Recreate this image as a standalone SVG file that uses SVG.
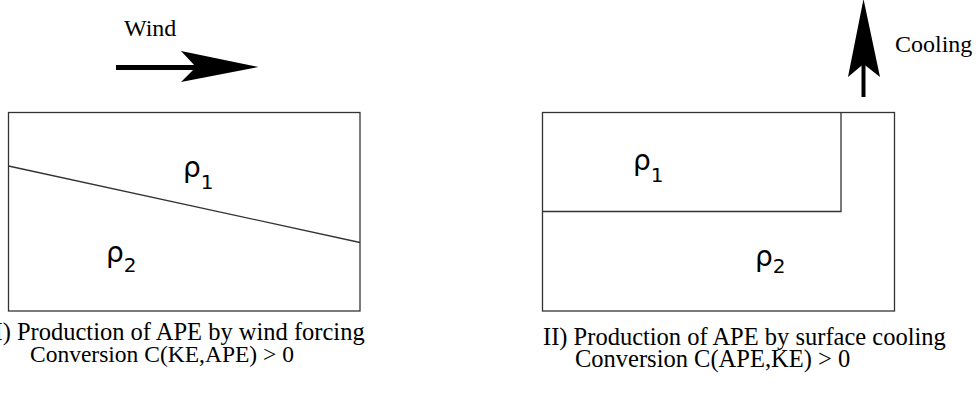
<svg xmlns="http://www.w3.org/2000/svg" width="976" height="405" viewBox="0 0 976 405">
<style>
.box{fill:none;stroke:#333;stroke-width:1.3}
.lbl{font-family:"Liberation Serif","Times New Roman",serif;font-size:24px;fill:#000}
.cap{font-size:24.5px}
.rho{font-family:"DejaVu Sans","Liberation Sans",sans-serif;font-size:28px;fill:#000}
.sub{font-size:20px}
.shaft{stroke:#000;fill:none}
</style>
<rect width="976" height="405" fill="#fff"/>
<g id="panel1">
  <rect class="box" x="8.5" y="112.5" width="351.5" height="198.5"/>
  <path class="box" d="M8.5 166 L360 242.5"/>
  <text class="rho" x="183" y="177">ρ<tspan class="sub" dy="12">1</tspan></text>
  <text class="rho" x="106" y="262">ρ<tspan class="sub" dy="10">2</tspan></text>
</g>
<g id="panel2">
  <rect class="box" x="542.5" y="112.5" width="352" height="198.5"/>
  <path class="box" d="M542.5 211.5 H841 V112.5"/>
  <text class="rho" x="633" y="170">ρ<tspan class="sub" dy="12">1</tspan></text>
  <text class="rho" x="755" y="266">ρ<tspan class="sub" dy="7">2</tspan></text>
</g>
<g id="connectors">
  <g id="wind-arrow">
    <line class="shaft" x1="116" y1="67.5" x2="197" y2="67.5" stroke-width="5"/>
    <polygon points="258.5,67 181,51 196,67 181,82" fill="#000"/>
  </g>
  <g id="cooling-arrow">
    <line class="shaft" x1="863.5" y1="97" x2="863.5" y2="62" stroke-width="4"/>
    <polygon points="863.5,-1 880,77 863.5,64 848,77" fill="#000"/>
  </g>
</g>
<g id="labels">
  <text class="lbl" x="124" y="36">Wind</text>
  <text class="lbl" x="895" y="52">Cooling</text>
  <text class="lbl cap" x="-5.5" y="340">I) Production of APE by wind forcing</text>
  <text class="lbl" x="30" y="362" style="font-size:23.5px">Conversion C(KE,APE) &gt; 0</text>
  <text class="lbl cap" x="543" y="345">II) Production of APE by surface cooling</text>
  <text class="lbl cap" x="575" y="367">Conversion C(APE,KE) &gt; 0</text>
</g>
</svg>
